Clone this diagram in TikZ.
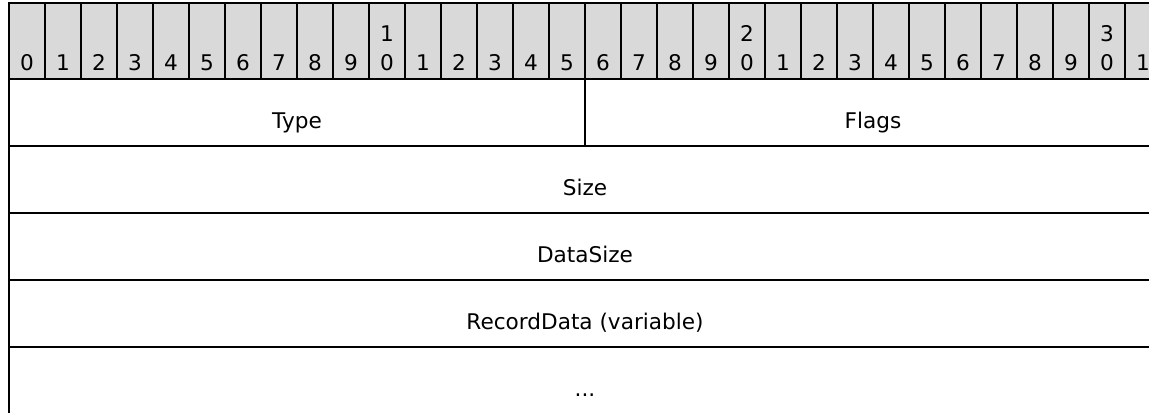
\documentclass[tikz,border=0pt]{standalone}
\usepackage{fontspec}
\setmainfont{DejaVu Sans}
\usetikzlibrary{positioning}

\begin{document}
\begin{tikzpicture}[
    x=0.5pt, y=-0.5pt,
    font=\fontsize{10.8}{14.5}\selectfont,
    line width=1pt,
    bitcell/.style={rectangle, draw=black, fill=black!15, minimum width=18pt, minimum height=38pt, inner sep=0pt, outer sep=0pt},
    bitnum/.style={anchor=base, inner sep=0pt},
    field/.style={rectangle, draw=black, minimum height=33.5pt, inner sep=0pt, outer sep=0pt, text height=15.5pt, text depth=0pt},
    halffield/.style={field, minimum width=288pt},
    fullfield/.style={field, minimum width=576pt}
]
\useasboundingbox (0,0) rectangle (1149,412);
\clip (0,0) rectangle (1149,412);

% Bit ruler
\node[bitcell, anchor=north west] (bit0) at (9,3) {};
\foreach \i [remember=\i as \j (initially 0)] in {1,...,31} {
    \node[bitcell, right=0pt of bit\j] (bit\i) {};
}
\foreach \i in {0,...,31} {
    \pgfmathtruncatemacro{\tens}{int(\i/10)}
    \pgfmathtruncatemacro{\ones}{mod(\i,10)}
    \node[bitnum] (num\i) at ([yshift=4.5pt]bit\i.south) {\ones};
    \ifnum\i>0 \ifnum\ones=0
        \node[bitnum] (tens\i) at ([yshift=19pt]bit\i.south) {\tens};
    \fi\fi
}

% Record fields
\node[halffield, anchor=north west] (type) at (bit0.south west) {Type};
\node[halffield, right=0pt of type] (flags) {Flags};
\node[fullfield, anchor=north west] (size) at (type.south west) {Size};
\node[fullfield, below=0pt of size] (datasize) {DataSize};
\node[fullfield, below=0pt of datasize] (recorddata) {RecordData (variable)};
\node[fullfield, below=0pt of recorddata] (more) {...};

\end{tikzpicture}
\end{document}
